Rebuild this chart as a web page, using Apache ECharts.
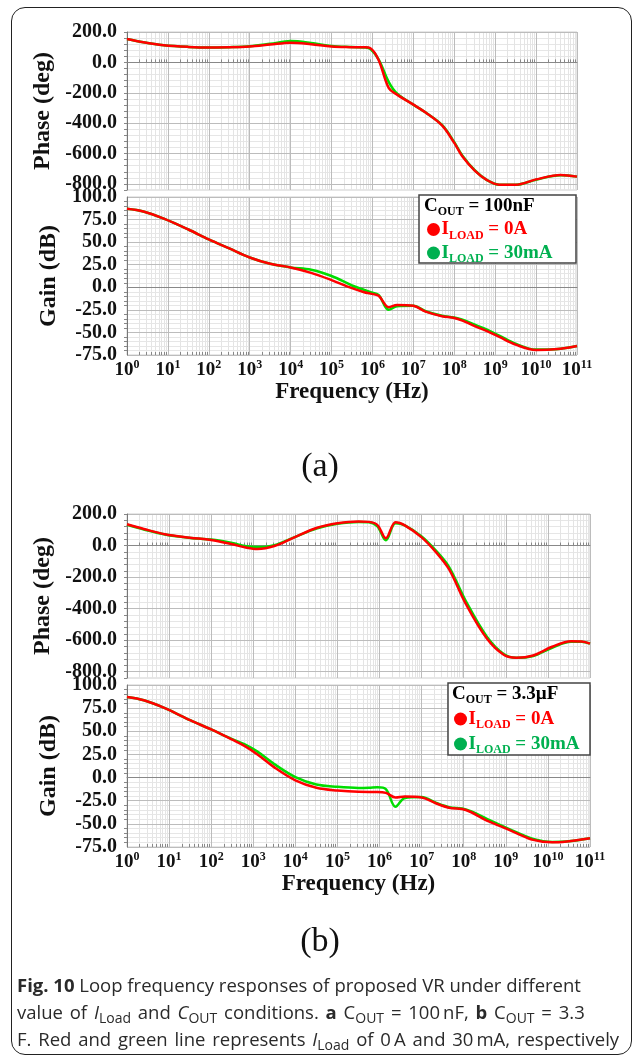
<!DOCTYPE html>
<html>
<head>
<meta charset="utf-8">
<script src="https://cdn.jsdelivr.net/npm/echarts@6/dist/echarts.min.js"></script>
<style>
  html, body { margin: 0; padding: 0; background: #fff; }
  #wrap { position: relative; width: 635px; height: 1056px; overflow: hidden; }
  #frame { position: absolute; left: 11px; top: 7px; width: 621px; height: 1048px; box-sizing: border-box;
           border: 1.5px solid #222; border-radius: 14px; }
  #chart { position: absolute; left: 0; top: 0; width: 635px; height: 1056px; }
  #caption { position: absolute; left: 17px; top: 971px; font-family: "Open Sans", "Noto Sans", sans-serif;
             font-size: 18.5px; line-height: 27px; color: #2a2a2a; white-space: nowrap; }
  #caption sub { font-size: 14px; vertical-align: -4px; line-height: 0; }
  #caption .wide { word-spacing: 2px; }
</style>
</head>
<body>
<div id="wrap">
  <div id="frame"></div>
  <div id="chart"></div>
  <div id="caption">
    <b>Fig. 10</b> Loop frequency responses of proposed VR under different<br>
    <span class="wide">value of <i>I</i><sub>Load</sub> and <i>C</i><sub>OUT</sub> conditions. <b>a</b> C<sub>OUT</sub> = 100&#8201;nF, <b>b</b> C<sub>OUT</sub> = 3.3</span><br>
    <span class="wide">F. Red and green line represents <i>I</i><sub>Load</sub> of 0&#8201;A and 30&#8201;mA, respectively</span>
  </div>
</div>
<script>
// frequency as log10(Hz)
var freqA = [0, 0.4, 0.9, 1.5, 2, 2.5, 3, 3.5, 4, 4.5, 5, 5.5, 5.8, 5.95, 6.15, 6.4, 6.6, 7.0, 7.3, 7.7, 8.0, 8.2, 8.5, 8.8, 9.1, 9.5, 10.0, 10.6, 11];
var phaseA_0A  = [154, 132, 113, 102, 98, 99, 104, 117, 130, 120, 104, 100, 99, 93, 16, -170, -212, -278, -330, -415, -530, -620, -712, -775, -805, -805, -770, -741, -752];
var phaseA_30mA = [154, 132, 113, 102, 98, 100, 106, 122, 140, 128, 108, 101, 98, 88, 20, -130, -205, -278, -330, -412, -525, -615, -710, -775, -805, -806, -772, -743, -752];
var gainA_0A  = [87, 84, 76, 64, 53, 43, 33, 26, 22, 16, 8, -1, -5.5, -7, -9.5, -22, -19.5, -20.5, -27, -32, -34, -37, -43, -48.5, -55, -63.5, -69.5, -68, -65];
var gainA_30mA = [87, 84, 76, 64, 53, 43, 33, 26, 22, 19.5, 12.5, 2, -3, -5.5, -8.5, -25, -21, -20.5, -26.5, -31.5, -33.5, -36, -41.5, -47, -53.5, -62.5, -69, -68, -65];

var freqB = [0, 0.4, 0.9, 1.5, 2, 2.5, 2.8, 3.1, 3.5, 4, 4.5, 5, 5.5, 5.75, 5.95, 6.15, 6.38, 6.6, 7.0, 7.35, 7.65, 8.05, 8.55, 8.95, 9.25, 9.65, 10.1, 10.55, 10.8, 11];
var phaseB_0A  = [135, 105, 72, 50, 35, 8, -11, -22, -3, 55, 111, 141, 153, 150, 130, 46, 148, 128, 52, -45, -150, -370, -590, -693, -712, -697, -642, -607, -608, -622];
var phaseB_30mA = [132, 102, 70, 48, 38, 16, -3, -10, 2, 55, 108, 138, 150, 148, 122, 33, 142, 128, 58, -35, -135, -352, -578, -688, -712, -700, -648, -610, -610, -622];
var gainB_0A  = [87, 83.5, 75, 62, 52, 41, 34, 25, 11, -3, -11, -14, -15.4, -15.5, -15.5, -16.5, -21.5, -20.4, -21.5, -28, -32.5, -35, -46.5, -54, -60, -67.3, -70, -68.5, -67, -65.5];
var gainB_30mA = [87, 83.5, 75, 62, 52, 41.5, 36, 28, 14.5, 0.5, -7.5, -10, -11.2, -11, -10.5, -12.5, -31.5, -22, -21, -27.5, -32, -34.5, -44.5, -53, -59, -66.3, -69.5, -68.5, -67, -65.5];

var decadeTicks = [0, 1, 2, 3, 4, 5, 6, 7, 8, 9, 10, 11];
var phaseTicks = [-800, -600, -400, -200, 0, 200];

var SERIF = '"Liberation Serif", "DejaVu Serif", serif';
var RED = '#ff0000', GREEN = '#00dd00', LEG_GREEN = '#00b050';

// minor log grid lines 2..9 in each decade
var minorTicks = [];
for (var d = 0; d < 11; d++) {
  for (var k = 2; k <= 9; k++) minorTicks.push(d + Math.log10(k));
}

function zip(xs, ys) {
  return xs.map(function (x, i) { return [x, ys[i]]; });
}

var grids = [
  { left: 127, top: 32, width: 450, height: 158 },
  { left: 127, top: 197, width: 450, height: 158 },
  { left: 127, top: 514, width: 463, height: 164 },
  { left: 127, top: 685, width: 463, height: 162 }
];

var tickLabelRich = {
  b: { fontFamily: SERIF, fontWeight: 'bold', fontSize: 19, color: '#111', lineHeight: 22 },
  s: { fontFamily: SERIF, fontWeight: 'bold', fontSize: 12, color: '#111', lineHeight: 10, verticalAlign: 'top' }
};

function minorX(gi) {
  return {
    type: 'value', gridIndex: gi, min: 0, max: 11, position: 'bottom', z: 0,
    axisLine: { show: false }, axisLabel: { show: false },
    axisTick: { show: true, inside: true, length: 3, customValues: minorTicks, lineStyle: { color: '#888' } },
    splitLine: { show: true, lineStyle: { color: '#e4e4e4', width: 1 } }
  };
}
function mainX(gi, labels, nameGap) {
  return {
    type: 'value', gridIndex: gi, min: 0, max: 11, position: 'bottom', z: 1,
    axisLine: { show: true, lineStyle: { color: '#888' } },
    axisTick: { show: false, customValues: decadeTicks },
    splitLine: { show: true, lineStyle: { color: '#bcbcbc', width: 1 } },
    axisLabel: { show: labels, margin: 4, customValues: decadeTicks,
      formatter: function (v) { return '{b|10}{s|' + v + '}'; }, rich: tickLabelRich },
    name: labels ? 'Frequency (Hz)' : '', nameLocation: 'middle', nameGap: nameGap,
    nameTextStyle: { fontFamily: SERIF, fontWeight: 'bold', fontSize: 23, color: '#111' }
  };
}
var yLabelStyle = { fontFamily: SERIF, fontWeight: 'bold', fontSize: 20, color: '#111', margin: 10 };
var yNameStyle = { fontFamily: SERIF, fontWeight: 'bold', fontSize: 24, color: '#111' };

function phaseY(gi) {
  return {
    type: 'value', gridIndex: gi, min: -840, max: 200, position: 'left', z: 1,
    axisLine: { show: true, lineStyle: { color: '#777' } },
    axisTick: { show: false, customValues: phaseTicks },
    axisLabel: Object.assign({ customValues: phaseTicks, formatter: function (v) { return v.toFixed(1); } }, yLabelStyle),
    splitLine: { show: true, lineStyle: { color: '#bcbcbc' } },
    name: 'Phase (deg)', nameLocation: 'middle', nameGap: 66, nameTextStyle: yNameStyle
  };
}
function phaseMinorY(gi) {
  return {
    type: 'value', gridIndex: gi, min: -840, max: 200, interval: 40, position: 'left', z: 0,
    axisLine: { show: false }, axisLabel: { show: false },
    axisTick: { show: true, length: 3, lineStyle: { color: '#888' } },
    splitLine: { show: true, lineStyle: { color: '#e6e6e6' } }
  };
}
function gainY(gi) {
  return {
    type: 'value', gridIndex: gi, min: -75, max: 100, interval: 25, position: 'left', z: 1,
    axisLine: { show: true, lineStyle: { color: '#777' } },
    axisTick: { show: false },
    minorTick: { show: true, splitNumber: 5, length: 3, lineStyle: { color: '#888' } },
    minorSplitLine: { show: true, lineStyle: { color: '#e6e6e6' } },
    axisLabel: Object.assign({ formatter: function (v) { return v.toFixed(1); } }, yLabelStyle),
    splitLine: { show: true, lineStyle: { color: '#bcbcbc' } },
    name: 'Gain (dB)', nameLocation: 'middle', nameGap: 66, nameTextStyle: yNameStyle
  };
}

// xAxis: 0..3 main (grid 0..3), 4..7 minor
var xAxes = [mainX(0, false, 0), mainX(1, true, 18), mainX(2, false, 0), mainX(3, true, 16),
             minorX(0), minorX(1), minorX(2), minorX(3)];
// yAxis: 0 phaseA, 1 gainA, 2 phaseB, 3 gainB, 4 phaseA minor, 5 phaseB minor
var yAxes = [phaseY(0), gainY(1), phaseY(2), gainY(3), phaseMinorY(0), phaseMinorY(2)];

function curve(xi, yi, xs, ys, color, z) {
  return {
    type: 'line', xAxisIndex: xi, yAxisIndex: yi, data: zip(xs, ys),
    showSymbol: false, smooth: 0.35, z: z, silent: true,
    lineStyle: { color: color, width: 2.5 }, itemStyle: { color: color }
  };
}

var series = [
  curve(0, 0, freqA, phaseA_30mA, GREEN, 3), curve(0, 0, freqA, phaseA_0A, RED, 4),
  curve(1, 1, freqA, gainA_30mA, GREEN, 3), curve(1, 1, freqA, gainA_0A, RED, 4),
  curve(2, 2, freqB, phaseB_30mA, GREEN, 3), curve(2, 2, freqB, phaseB_0A, RED, 4),
  curve(3, 3, freqB, gainB_30mA, GREEN, 3), curve(3, 3, freqB, gainB_0A, RED, 4)
];

var legRich = {
  b: { fontFamily: SERIF, fontWeight: 'bold', fontSize: 19, lineHeight: 24 },
  s: { fontFamily: SERIF, fontWeight: 'bold', fontSize: 12, lineHeight: 12, verticalAlign: 'bottom' }
};
function legendBox(x, y, w, h, cText, lineYs, textX, dotX) {
  return [
    { type: 'rect', shape: { x: x, y: y, width: w, height: h }, style: { fill: '#fff', stroke: '#444', lineWidth: 1.5 }, z: 10 },
    { type: 'text', x: textX, y: lineYs[0], z: 11, style: { text: cText, fill: '#000', verticalAlign: 'middle', rich: legRich } },
    { type: 'circle', shape: { cx: dotX, cy: lineYs[1], r: 6.5 }, style: { fill: RED }, z: 11 },
    { type: 'text', x: dotX + 8, y: lineYs[1], z: 11, style: { text: '{b|I}{s|LOAD}{b| = 0A}', fill: RED, verticalAlign: 'middle', rich: legRich } },
    { type: 'circle', shape: { cx: dotX, cy: lineYs[2], r: 6.5 }, style: { fill: LEG_GREEN }, z: 11 },
    { type: 'text', x: dotX + 8, y: lineYs[2], z: 11, style: { text: '{b|I}{s|LOAD}{b| = 30mA}', fill: LEG_GREEN, verticalAlign: 'middle', rich: legRich } }
  ];
}

var graphics = []
  .concat(legendBox(419, 195, 157, 68, '{b|C}{s|OUT}{b| = 100nF}', [206, 229.5, 253], 424, 433.5))
  .concat(legendBox(448, 683, 142, 72, '{b|C}{s|OUT}{b| = 3.3\u00b5F}', [694, 719, 744], 452, 460.5))
  .concat([
    { type: 'text', x: 320, y: 467, style: { text: '(a)', fill: '#111', font: '34px ' + SERIF, align: 'center', verticalAlign: 'middle' } },
    { type: 'text', x: 320, y: 942, style: { text: '(b)', fill: '#111', font: '34px ' + SERIF, align: 'center', verticalAlign: 'middle' } }
  ]);

var chart = echarts.init(document.getElementById('chart'));
chart.setOption({
  animation: false,
  grid: grids.map(function (g) { return Object.assign({ show: true, borderColor: '#cfcfcf', borderWidth: 1, backgroundColor: 'transparent' }, g); }),
  xAxis: xAxes,
  yAxis: yAxes,
  series: series,
  graphic: graphics
});
</script>
</body>
</html>
